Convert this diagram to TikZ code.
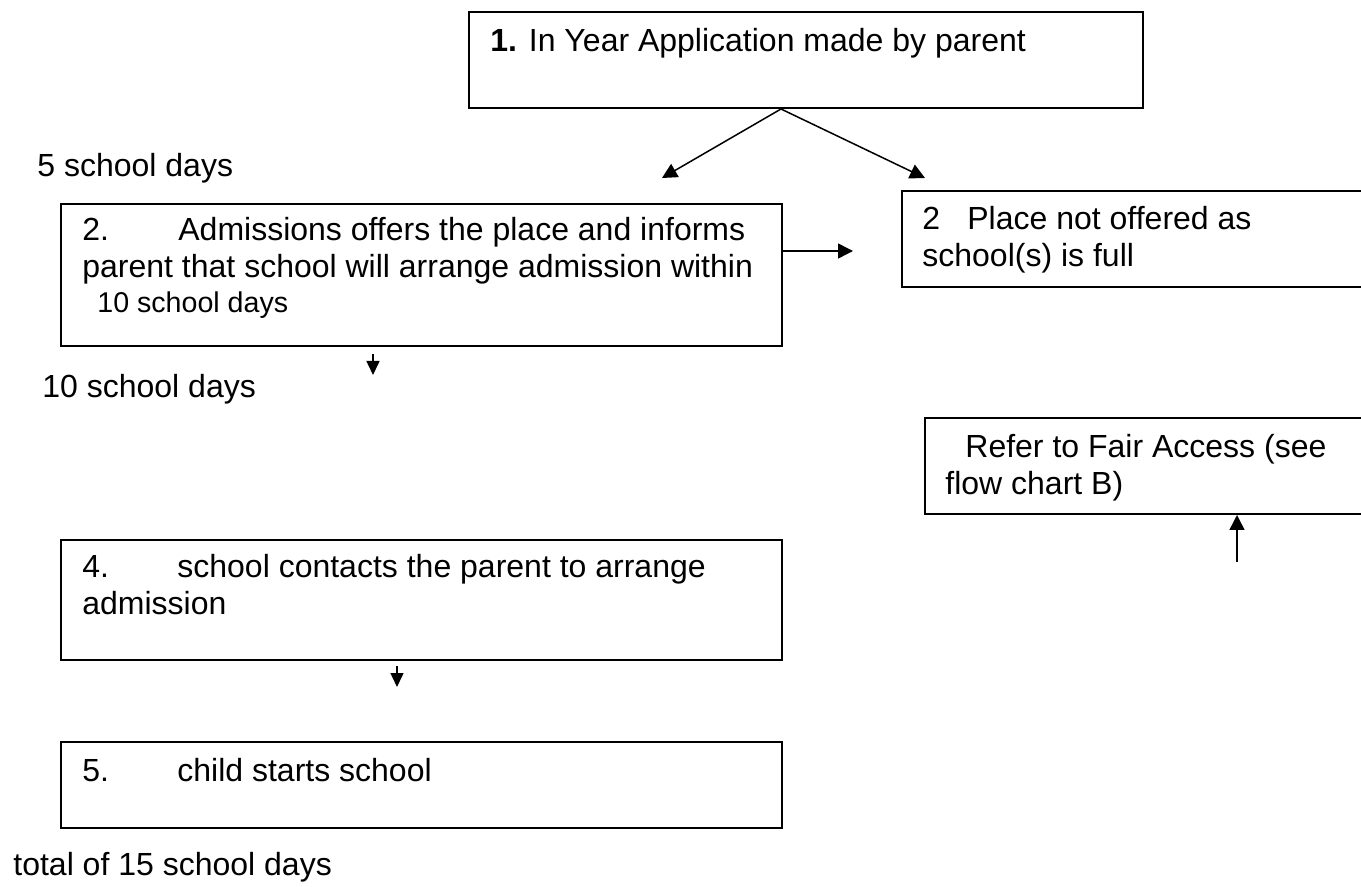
\documentclass[tikz,border=0pt]{standalone}
\usepackage{fontspec}
\setmainfont{Liberation Sans}
\usetikzlibrary{arrows.meta}

\tikzset{
  box/.style={draw,line width=1pt,inner sep=0pt,anchor=north west},
  txt/.style={anchor=base west,inner sep=0pt,align=left,font=\fontsize{16}{18.5}\selectfont},
  small/.style={txt,font=\fontsize{14.3}{17}\selectfont},
  arr/.style={line width=0.75pt,-{Triangle[width=7.5pt,length=7.5pt]}},
  arrsm/.style={line width=0.75pt,-{Triangle[width=6.5pt,length=7pt]}}
}

\begin{document}
\begin{tikzpicture}[x=0.5pt,y=-0.5pt]
\useasboundingbox (0,0) rectangle (1361,887);
% boxes
\node[box,minimum width=337pt,minimum height=48pt] (b1) at (468,11) {};
\node[box,minimum width=360.5pt,minimum height=71pt] (b2) at (60,203) {};
\node[box,minimum width=244.5pt,minimum height=48pt] (b3) at (901,190) {};
\node[box,minimum width=233pt,minimum height=48pt] (fair) at (924,417) {};
\node[box,minimum width=360.5pt,minimum height=60pt] (b4) at (60,539) {};
\node[box,minimum width=360.5pt,minimum height=43pt] (b5) at (60,741) {};
% texts (multi-line ones sit on their last line)
\node[txt] (t1) at (490,52) {\textbf{1.} In Year Application made by parent};
\node[txt] (days5) at (37,177) {5 school days};
\node[txt] (t2) at (82,278) {\makebox[48pt][l]{2.}Admissions offers the place and informs\\parent that school will arrange admission within};
\node[small] (t2b) at (97,313) {10 school days};
\node[txt] (days10) at (42,398) {10 school days};
\node[txt] (t3) at (922,267) {\makebox[22.5pt][l]{2}Place not offered as\\school(s) is full};
\node[txt] (tfair) at (945,495) {\hspace*{10pt}Refer to Fair Access (see\\flow chart B)};
\node[txt] (t4) at (82,615) {\makebox[47.5pt][l]{4.}school contacts the parent to arrange\\admission};
\node[txt] (t5) at (82,781) {\makebox[47.5pt][l]{5.}child starts school};
\node[txt] (total) at (13,875) {total of 15 school days};
% arrows
\coordinate (l1) at (662,178);
\coordinate (r1) at (925,178);
\coordinate (r2) at (853,251);
\coordinate (d2) at (373,375);
\coordinate (d4) at (397,687);
\coordinate (f0) at (1237,562);
\draw[arr] ([xshift=-12.5pt]b1.south) -- (l1);
\draw[arr] ([xshift=-12.5pt]b1.south) -- (r1);
\draw[arr] (b2.east |- r2) -- (r2);
\draw[arrsm] ([yshift=-3.5pt]d2 |- b2.south) -- (d2);
\draw[arrsm] ([yshift=-2.5pt]d4 |- b4.south) -- (d4);
\draw[arr] (f0) -- (f0 |- fair.south);
\end{tikzpicture}
\end{document}
